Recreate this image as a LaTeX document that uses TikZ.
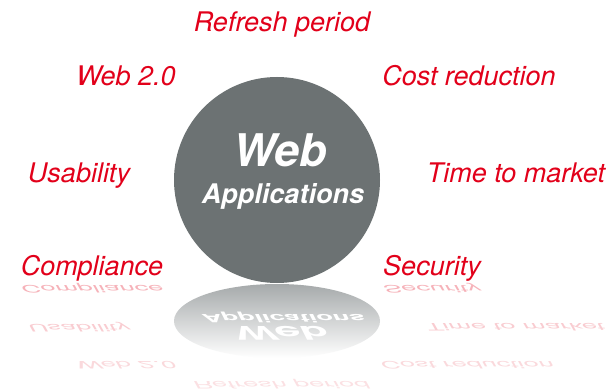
\documentclass[tikz,border=0pt]{standalone}
\usepackage{fontspec}
\setmainfont{TeX Gyre Heros}
\usepackage{tikz}
\usetikzlibrary{positioning,shapes.geometric}
\definecolor{webred}{HTML}{E2001A}
\definecolor{webgray}{HTML}{6C7273}
\definecolor{shadegray}{HTML}{A6AAAB}
\tikzstyle{topic}=[text=webred, inner sep=0pt,
  font=\fontsize{27}{27}\selectfont\itshape]
\tikzstyle{mirror}=[topic, yscale=-0.38, opacity=0.25]
\tikzstyle{bigtxt}=[text=white, inner sep=0pt,
  font=\fontsize{45}{45}\selectfont\bfseries\itshape]
\tikzstyle{subtxt}=[text=white, inner sep=0pt,
  font=\fontsize{27}{27}\selectfont\bfseries\itshape]

\begin{document}
\begin{tikzpicture}[x=1pt,y=-1pt]
    \useasboundingbox (0,0) rectangle (611,390);
    \fill[white] (0,0) rectangle (611,390);

          % the reflection
          \node[ellipse,minimum width=206pt,minimum height=74pt,
                top color=shadegray,bottom color=white] (app_r) at (277,321) {};
          \node[subtxt,yscale=-0.42] (apps_r) at (283,317) {Applications};
          \node[bigtxt,yscale=-0.42] (web_r)  at (280,333) {Web};

          \node[mirror,opacity=0.3]  (compliance_r) at (92,288)  {Compliance};
          \node[mirror,opacity=0.3]  (security_r)   at (432,288) {Security};
          \node[mirror,opacity=0.2]  (usability_r)  at (79,327)  {Usability};
          \node[mirror,opacity=0.2]  (market_r)     at (515,327) {Time to market};
          \node[mirror,opacity=0.15] (web20_r)      at (126,365) {Web 2.0};
          \node[mirror,opacity=0.15] (cost_r)       at (467,365) {Cost reduction};
          \node[mirror,opacity=0.12] (refresh_r)    at (281,384) {Refresh period};

          % the circle
          \node[circle,fill=webgray,minimum size=206pt,inner sep=0pt] (app) at (277,180) {};
          \node[bigtxt,anchor=base] (web)  at (280,167) {Web};
          \node[subtxt,anchor=base] (apps) at (283,204) {Applications};

          \node[topic,anchor=base] (refresh)    at (282,32)  {Refresh period};
          \node[topic,anchor=base] (web20)      at (126,86)  {Web 2.0};
          \node[topic,anchor=base] (cost)       at (469,86)  {Cost reduction};
          \node[topic,anchor=base] (usability)  at (79,183)  {Usability};
          \node[topic,anchor=base] (market)     at (516,183) {Time to market};
          \node[topic,anchor=base] (compliance) at (92,276)  {Compliance};
          \node[topic,anchor=base] (security)   at (432,276) {Security};
        \end{tikzpicture}
\end{document}
